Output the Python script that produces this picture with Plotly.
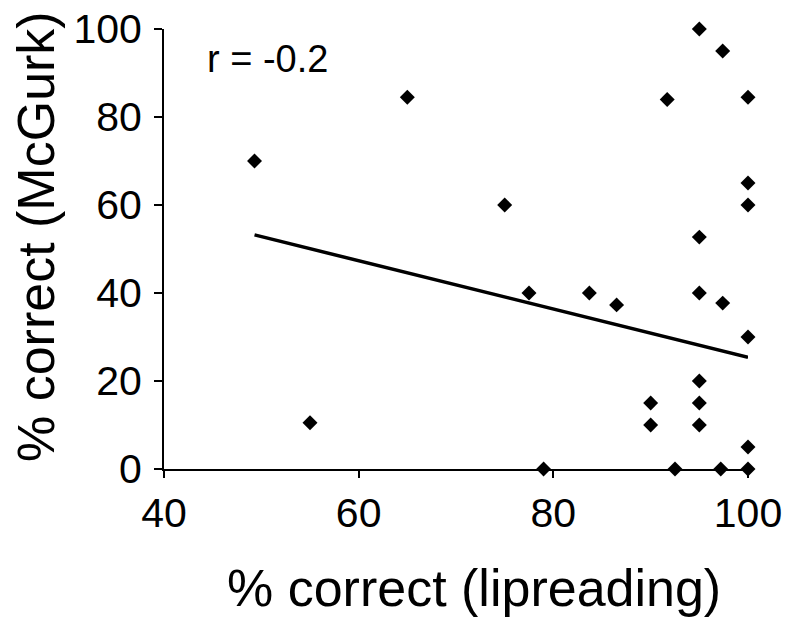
import plotly.graph_objects as go

# Data
lipreading = [49.3, 55, 65, 75, 77.5, 79, 83.7, 86.5, 90, 90, 91.7, 92.5,
              95, 95, 95, 95, 95, 95, 97.4, 97.4, 97.2,
              100, 100, 100, 100, 100, 100]
mcgurk = [70, 10.5, 84.5, 60, 40, 0, 40, 37.3, 15, 10, 84, 0,
          100, 52.7, 40, 20, 15, 10, 95, 37.7, 0,
          84.5, 65, 60, 30, 5, 0]

trend_x = [49.3, 100]
trend_y = [53.2, 25.4]

x_ticks = [40, 60, 80, 100]
y_ticks = [0, 20, 40, 60, 80, 100]
r_label = "r = -0.2"
x_title = "% correct (lipreading)"
y_title = "% correct (McGurk)"

FONT = "Liberation Sans, Arial, Helvetica, sans-serif"

# page body has an 8px default margin; positions below are in figure pixels
OFF = 8
W, H = 797, 626
L, T = 164 - OFF, 29 - OFF
R = W - (748 - OFF)
B = H - (469 - OFF)
pw, ph = W - L - R, H - T - B


def px_to_paper(x, y):
    return (x - OFF - L) / pw, 1 - (y - OFF - T) / ph


fig = go.Figure()
fig.add_trace(go.Scatter(
    x=trend_x, y=trend_y, mode="lines",
    line=dict(color="black", width=3.5), showlegend=False, hoverinfo="skip"))
fig.add_trace(go.Scatter(
    x=lipreading, y=mcgurk, mode="markers",
    marker=dict(symbol="diamond", size=11.5, color="black", line=dict(width=0)),
    showlegend=False, cliponaxis=False))

rx, ry = px_to_paper(205, 59)
fig.add_annotation(x=rx, y=ry, xref="paper", yref="paper",
                   text=r_label, showarrow=False, xanchor="left", yanchor="middle",
                   font=dict(family=FONT, size=38, color="black"))

xx, xy = px_to_paper(474, 588)
fig.add_annotation(x=xx, y=xy, xref="paper", yref="paper", text=x_title,
                   showarrow=False, xanchor="center", yanchor="middle",
                   font=dict(family=FONT, size=52, color="black"))
yx, yy = px_to_paper(36, 237)
fig.add_annotation(x=yx, y=yy, xref="paper", yref="paper", text=y_title,
                   showarrow=False, xanchor="center", yanchor="middle", textangle=-90,
                   font=dict(family=FONT, size=52, color="black"))

fig.update_layout(
    width=W, height=H,
    margin=dict(l=L, r=R, t=T, b=B, autoexpand=False),
    paper_bgcolor="white", plot_bgcolor="white",
    font=dict(family=FONT, color="black"),
)
fig.update_xaxes(
    range=[40, 100], tickvals=x_ticks, ticktext=[str(v) for v in x_ticks],
    showgrid=False, zeroline=False, showline=True, linecolor="black", linewidth=2,
    ticks="outside", ticklen=7, tickwidth=2, tickcolor="black", automargin=False,
    ticklabeloverflow="allow",
    tickfont=dict(family=FONT, size=41, color="black"),
)
fig.update_yaxes(
    range=[0, 100], tickvals=y_ticks, ticktext=[str(v) for v in y_ticks],
    showgrid=False, zeroline=False, showline=True, linecolor="black", linewidth=2,
    ticks="outside", ticklen=8, tickwidth=2, tickcolor="black", automargin=False,
    ticklabelstandoff=4, ticklabeloverflow="allow",
    tickfont=dict(family=FONT, size=41, color="black"),
)

fig.write_html("out.html")
